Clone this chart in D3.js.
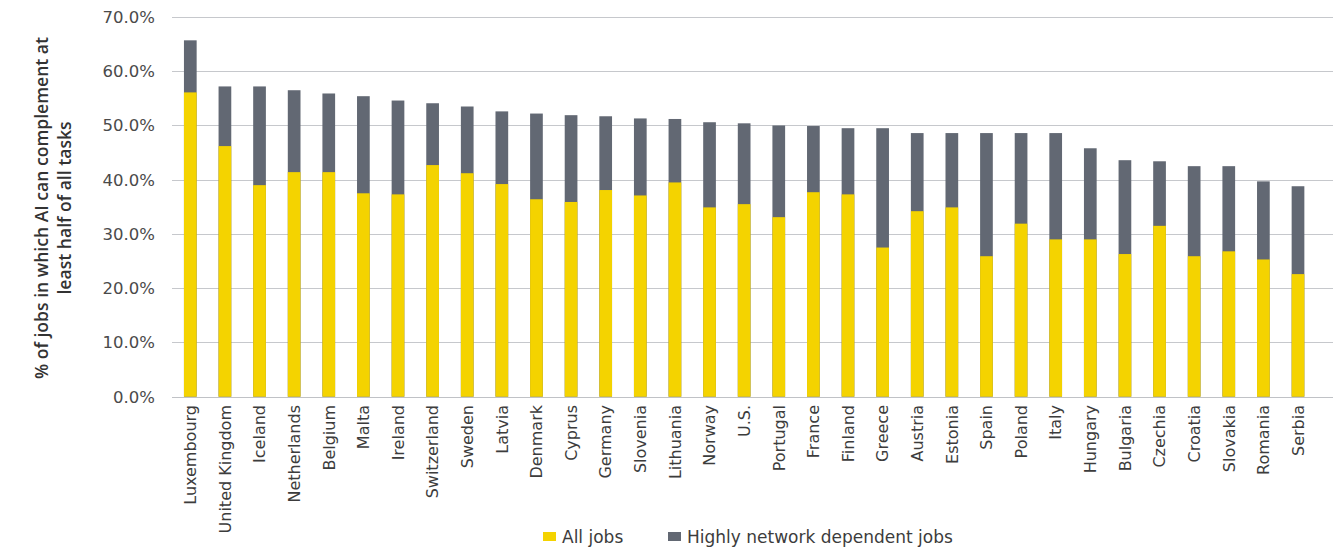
<!DOCTYPE html>
<html>
<head>
<meta charset="utf-8">
<script src="https://cdn.jsdelivr.net/npm/d3@7"></script>
<style>
  html, body { margin: 0; padding: 0; background: #fff; }
  svg { display: block; }
</style>
</head>
<body>
<svg id="chart" width="1341" height="548"></svg>
<script>
const countries = ["Luxembourg","United Kingdom","Iceland","Netherlands","Belgium","Malta","Ireland","Switzerland","Sweden","Latvia","Denmark","Cyprus","Germany","Slovenia","Lithuania","Norway","U.S.","Portugal","France","Finland","Greece","Austria","Estonia","Spain","Poland","Italy","Hungary","Bulgaria","Czechia","Croatia","Slovakia","Romania","Serbia"];
const allJobs = [56.1,46.2,39.0,41.4,41.4,37.5,37.3,42.7,41.2,39.2,36.4,35.9,38.1,37.1,39.5,34.9,35.5,33.1,37.7,37.3,27.5,34.2,34.9,25.9,31.9,29.0,29.0,26.3,31.5,25.9,26.8,25.3,22.6];
const networkJobs = [65.7,57.2,57.2,56.5,55.9,55.4,54.6,54.1,53.5,52.6,52.2,51.9,51.7,51.3,51.2,50.6,50.4,50.0,49.9,49.5,49.5,48.6,48.6,48.6,48.6,48.6,45.8,43.6,43.4,42.5,42.5,39.7,38.8];
const yTicks = [0,10,20,30,40,50,60,70];
const seriesNames = ["All jobs","Highly network dependent jobs"];
const colors = ["#F4D300","#626873"];

const svg = d3.select("#chart");
const step = (1298 - 190.3) / (countries.length - 1);
const x0 = 190.3 - step / 2;
const x = d3.scaleBand().domain(countries)
  .range([x0, x0 + step * countries.length])
  .paddingInner(0.633).paddingOuter(0.3165);
const y = d3.scaleLinear().domain([0, 70]).range([396.7, 17]);

const gridX0 = 172, gridX1 = 1333;

// gridlines
svg.append("g").selectAll("line").data(yTicks).join("line")
  .attr("x1", gridX0).attr("x2", gridX1)
  .attr("y1", d => Math.round(y(d)) + 0.5).attr("y2", d => Math.round(y(d)) + 0.5)
  .attr("stroke", "#c6c8cc").attr("stroke-width", 1.2);

// y tick labels
svg.append("g").selectAll("text").data(yTicks).join("text")
  .attr("x", 155).attr("y", d => y(d)).attr("dy", "0.36em")
  .attr("text-anchor", "end")
  .style("font-family", "'DejaVu Sans', sans-serif").style("font-size", "16.5px")
  .attr("fill", "#4a4a4a")
  .text(d => d.toFixed(1) + "%");

// bars: network dependent (grey) behind, all jobs (yellow) in front
const bars = svg.append("g");
bars.selectAll("rect.net").data(countries).join("rect").attr("class", "net")
  .attr("x", d => x(d)).attr("width", x.bandwidth())
  .attr("y", (d, i) => y(networkJobs[i]))
  .attr("height", (d, i) => y(0) - y(networkJobs[i]))
  .attr("fill", colors[1]);
bars.selectAll("rect.all").data(countries).join("rect").attr("class", "all")
  .attr("x", d => x(d)).attr("width", x.bandwidth())
  .attr("y", (d, i) => y(allJobs[i]))
  .attr("height", (d, i) => y(0) - y(allJobs[i]))
  .attr("fill", colors[0]);

// baseline
svg.append("line").attr("x1", gridX0).attr("x2", gridX1)
  .attr("y1", Math.round(y(0)) + 0.5).attr("y2", Math.round(y(0)) + 0.5)
  .attr("stroke", "#c0c2c6").attr("stroke-width", 1.2);

// x labels
svg.append("g").selectAll("text").data(countries).join("text")
  .attr("transform", d => `translate(${x(d) + x.bandwidth() / 2},405) rotate(-90)`)
  .attr("text-anchor", "end").attr("dy", "0.36em")
  .style("font-family", "'DejaVu Sans', sans-serif").style("font-size", "16px")
  .attr("fill", "#3c3c3c")
  .text(d => d);

// y axis title
const title = svg.append("text")
  .attr("transform", "translate(53,208) rotate(-90)")
  .attr("text-anchor", "middle")
  .style("font-family", "'Open Sans', sans-serif").style("font-size", "17.6px")
  .style("font-weight", "600").attr("fill", "#333");
title.append("tspan").attr("x", 0).attr("dy", "-0.3em").text("% of jobs in which AI can complement at");
title.append("tspan").attr("x", 0).attr("dy", "1.3em").text("least half of all tasks");

// legend
const legendItems = [{name: seriesNames[0], color: colors[0], x: 543}, {name: seriesNames[1], color: colors[1], x: 668}];
const lg = svg.append("g");
lg.selectAll("rect").data(legendItems).join("rect")
  .attr("x", d => d.x).attr("y", 532).attr("width", 13).attr("height", 9)
  .attr("fill", d => d.color);
lg.selectAll("text").data(legendItems).join("text")
  .attr("x", d => d.x + 19).attr("y", 537).attr("dy", "0.36em")
  .style("font-family", "'DejaVu Sans', sans-serif").style("font-size", "17px")
  .attr("fill", "#3c3c3c")
  .text(d => d.name);
</script>
</body>
</html>
